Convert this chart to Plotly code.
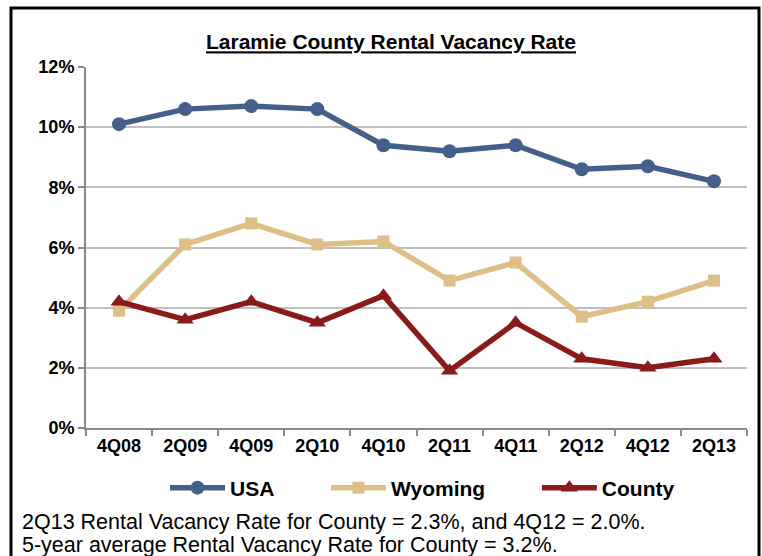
import plotly.graph_objects as go

# Rental vacancy rate by survey quarter (percent)
quarters = ["4Q08", "2Q09", "4Q09", "2Q10", "4Q10", "2Q11", "4Q11", "2Q12", "4Q12", "2Q13"]
usa = [10.1, 10.6, 10.7, 10.6, 9.4, 9.2, 9.4, 8.6, 8.7, 8.2]
wyoming = [3.9, 6.1, 6.8, 6.1, 6.2, 4.9, 5.5, 3.7, 4.2, 4.9]
county = [4.2, 3.6, 4.2, 3.5, 4.4, 1.9, 3.5, 2.3, 2.0, 2.3]
y_ticks = [0, 2, 4, 6, 8, 10, 12]

title_text = "Laramie County Rental Vacancy Rate"
note_lines = [
    "2Q13 Rental Vacancy Rate for County = 2.3%, and 4Q12 = 2.0%.",
    "5-year average Rental Vacancy Rate for County = 3.2%.",
]

FONT = "Liberation Sans, Arial, sans-serif"
W, H = 762, 556
L, R, T, B = 86, 15, 67, 128
PW, PH = W - L - R, H - T - B


def px_x(x):
    return (x - L) / PW


def px_y(y):
    return (H - B - y) / PH


PAD = "\u00a0" * 8  # spacing between legend entries

fig = go.Figure()
series = [
    ("USA", usa, "#44608A", "circle", 14, PAD),
    ("Wyoming", wyoming, "#DEBF88", "square", 12, PAD),
    ("County", county, "#8B1A1A", "triangle-up", 15, ""),
]
for name, vals, color, symbol, size, pad in series:
    fig.add_trace(go.Scatter(
        x=quarters, y=vals, name="<b>%s</b>%s" % (name, pad), mode="lines+markers",
        line=dict(color=color, width=5.5),
        marker=dict(symbol=symbol, size=size, color=color),
    ))

fig.update_layout(
    width=W, height=H,
    margin=dict(l=L, r=R, t=T, b=B, autoexpand=False),
    paper_bgcolor="white", plot_bgcolor="white",
    font=dict(family=FONT, color="black"),
    title=dict(
        text="<b><u>" + title_text + "</u></b>",
        x=px_x(391), xref="paper", xanchor="center",
        y=1 - 42 / H, yref="container", yanchor="middle",
        font=dict(size=21, family=FONT),
    ),
    showlegend=True,
    legend=dict(
        orientation="h", x=px_x(165), xanchor="left",
        y=px_y(488), yanchor="middle",
        font=dict(size=21, family=FONT), itemwidth=55,
        traceorder="normal", bgcolor="rgba(0,0,0,0)",
    ),
    xaxis=dict(
        type="category", range=[-0.5, len(quarters) - 0.5], automargin=False,
        showgrid=False, showline=True,
        linecolor="#898989", linewidth=2,
        ticks="outside", tickson="boundaries", ticklen=6,
        tickcolor="#898989", tickwidth=2,
        tickvals=quarters, ticktext=["<b>%s</b>" % q for q in quarters],
        tickfont=dict(size=18, family=FONT),
    ),
    yaxis=dict(
        range=[0, 12], automargin=False,
        tickvals=y_ticks, ticktext=["<b>%d%%</b>" % v for v in y_ticks],
        showgrid=True, gridcolor="#C0C0C0", gridwidth=1.5,
        showline=True, linecolor="#898989", linewidth=2,
        ticks="outside", ticklen=6, tickcolor="#898989", tickwidth=2,
        tickfont=dict(size=18, family=FONT),
        zeroline=False,
    ),
)

# outer frame
fig.add_shape(
    type="rect", xref="paper", yref="paper",
    x0=px_x(11), x1=px_x(759), y0=px_y(620), y1=px_y(8),
    line=dict(color="black", width=3), fillcolor="rgba(0,0,0,0)", layer="below",
)

for i, line in enumerate(note_lines):
    fig.add_annotation(
        text=line, xref="paper", yref="paper",
        x=px_x(20), xanchor="left", y=px_y(522 + 23 * i), yanchor="middle",
        showarrow=False, font=dict(size=21.5, family=FONT, color="black"),
    )

fig.write_html("out.html")
